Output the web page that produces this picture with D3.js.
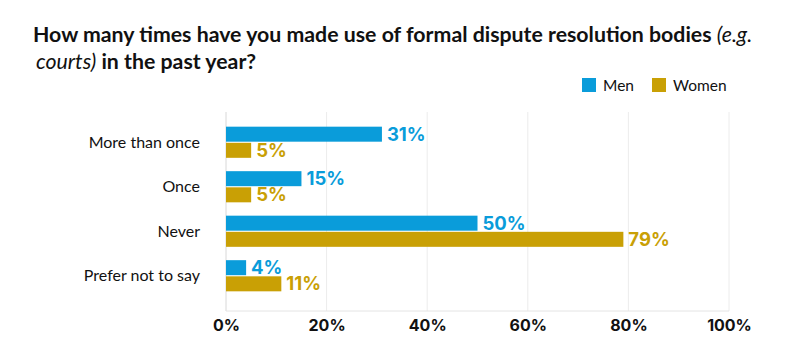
<!DOCTYPE html>
<html><head><meta charset="utf-8">
<script src="https://cdn.jsdelivr.net/npm/d3@7"></script>
<style>
html,body{margin:0;padding:0;background:#fff;}
svg{display:block;}
</style></head>
<body>
<svg id="chart" width="800" height="357"></svg>
<script>
const categories = ["More than once", "Once", "Never", "Prefer not to say"];
const seriesNames = ["Men", "Women"];
const menValues = [31, 15, 50, 4];
const womenValues = [5, 5, 79, 11];
const tickValues = [0, 20, 40, 60, 80, 100];
const colors = ["#0a9cda", "#c9a005"];

const svg = d3.select("#chart");
const x = d3.scaleLinear().domain([0, 100]).range([226, 729]);
const y = d3.scaleBand().domain(categories).range([120, 298]).paddingInner(0.3).paddingOuter(0.15);
const ySub = d3.scaleBand().domain(seriesNames).range([0, y.bandwidth()]).paddingInner(0.07);

// Title
const title = svg.append("text").attr("font-family", "Lato, 'Open Sans', sans-serif")
  .attr("font-weight", 700).attr("font-size", 21.3).attr("fill", "#111");
const l1 = title.append("tspan").attr("x", 33).attr("y", 42);
l1.append("tspan").text("How many times have you made use of formal dispute resolution bodies ");
l1.append("tspan").attr("font-style", "italic").attr("font-weight", 400).text("(e.g.");
const l2 = title.append("tspan").attr("x", 36).attr("y", 69);
l2.append("tspan").attr("font-style", "italic").attr("font-weight", 400).text("courts)");
l2.append("tspan").text(" in the past year?");

// Legend
const legendX = [582, 652];
seriesNames.forEach((s, i) => {
  svg.append("rect").attr("x", legendX[i]).attr("y", 78).attr("width", 14).attr("height", 14).attr("fill", colors[i]);
  svg.append("text").attr("x", legendX[i] + 21).attr("y", 91)
    .attr("font-family", "Lato, sans-serif").attr("font-size", 15.5).attr("fill", "#111").text(s);
});

// Grid
const gridTop = 112, gridBottom = 311;
svg.append("g").selectAll("line").data(tickValues).join("line")
  .attr("x1", d => x(d)).attr("x2", d => x(d)).attr("y1", gridTop).attr("y2", gridBottom)
  .attr("stroke", d => d === 0 ? "#d8d8d8" : "#ececec").attr("stroke-width", 1);
svg.append("line").attr("x1", x(0)).attr("x2", x(100)).attr("y1", gridBottom).attr("y2", gridBottom)
  .attr("stroke", "#e4e4e4");

// Axis labels
const xAxis = d3.axisBottom(x).tickValues(tickValues).tickFormat(d => d + "%").tickSize(0).tickPadding(9);
const ax = svg.append("g").attr("transform", `translate(0,${gridBottom})`).call(xAxis);
ax.select(".domain").remove();
ax.selectAll("text").attr("font-family", "Inter, sans-serif").attr("font-weight", 700)
  .attr("font-size", 16).attr("fill", "#111");

// Category labels
svg.append("g").selectAll("text").data(categories).join("text")
  .attr("x", 200).attr("y", d => y(d) + y.bandwidth() / 2).attr("dy", "0.35em")
  .attr("text-anchor", "end").attr("font-family", "Lato, sans-serif").attr("font-size", 16)
  .attr("fill", "#111").text(d => d);

// Bars
const series = [menValues, womenValues];
series.forEach((vals, si) => {
  const g = svg.append("g");
  g.selectAll("rect").data(vals).join("rect")
    .attr("x", x(0)).attr("y", (d, i) => y(categories[i]) + ySub(seriesNames[si]))
    .attr("width", d => x(d) - x(0)).attr("height", ySub.bandwidth()).attr("fill", colors[si]);
  g.selectAll("text").data(vals).join("text")
    .attr("x", d => x(d) + 5).attr("y", (d, i) => y(categories[i]) + ySub(seriesNames[si]) + ySub.bandwidth() / 2)
    .attr("dy", "0.36em").attr("font-family", "Inter, sans-serif").attr("font-weight", 700)
    .attr("font-size", 18.5).attr("fill", colors[si]).text(d => d + "%");
});
</script>
</body></html>
